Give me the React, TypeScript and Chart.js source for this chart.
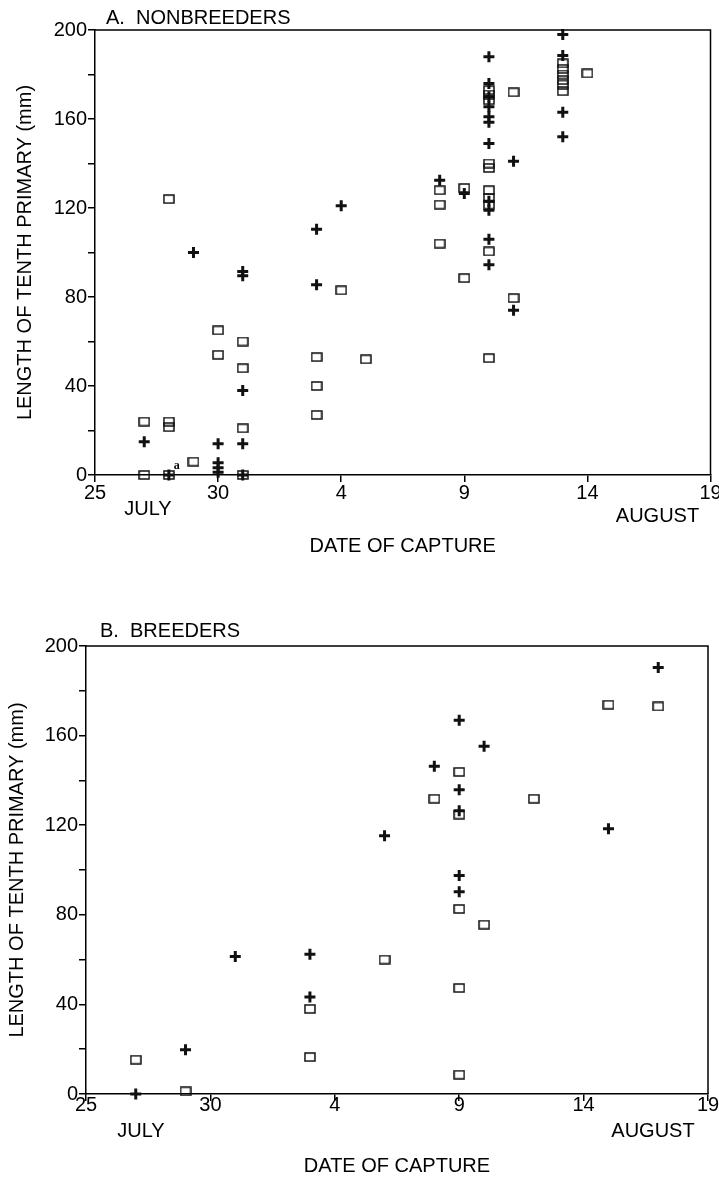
import React, { useEffect, useRef } from 'react';
import { Chart, registerables } from 'chart.js';

Chart.register(...registerables);

// ---- Axis tick labels (x value = days after 25 July) ----
const xTickValues = [0, 5, 10, 15, 20, 25];
const xTickLabels = ['25', '30', '4', '9', '14', '19'];

// ---- A. NONBREEDERS ----
const nbSquareDays = [2, 2, 3, 3, 3, 3, 4, 5, 5, 6, 6, 6, 6, 9, 9, 9, 10, 11, 14, 14, 14, 15, 15, 16, 16, 16, 16, 16, 16, 16, 16, 16, 16, 17, 17, 19, 19, 19, 19, 19, 19, 20];
const nbSquareLengths = [24, 0, 124, 24, 21.5, 0, 6, 65, 54, 60, 48, 21, 0, 53, 40, 27, 83, 52, 128, 121.5, 104, 129, 88.5, 173, 171, 168.5, 140, 138, 128, 124.5, 121.5, 100.5, 52.5, 172, 79.5, 185, 182.5, 180, 177.5, 175.5, 172.5, 180.5];
const nbPlusDays = [2, 3, 4, 5, 5, 5, 5, 6, 6, 6, 6, 6, 9, 9, 10, 14, 15, 16, 16, 16, 16, 16, 16, 16, 16, 16, 16, 16, 17, 17, 19, 19, 19, 19];
const nbPlusLengths = [15, 0, 100, 14, 5.5, 3.3, 1.2, 91.5, 89.5, 38, 14, 0, 110.5, 85.5, 121, 132.5, 126.5, 188, 176, 170, 165.5, 161, 158.5, 149, 123, 119, 106, 94.5, 141, 74, 198, 188.5, 163, 152];

// ---- B. BREEDERS ----
const bSquareDays = [2, 4, 9, 9, 12, 14, 15, 15, 15, 15, 15, 16, 18, 21, 23];
const bSquareLengths = [15.3, 1.2, 38, 16.5, 60, 131.8, 143.8, 124.7, 82.6, 47.3, 8.6, 75.6, 131.8, 173.8, 173];
const bPlusDays = [2, 4, 6, 9, 9, 12, 14, 15, 15, 15, 15, 15, 16, 21, 23];
const bPlusLengths = [0, 19.8, 61.4, 62.4, 43.3, 115.3, 146.3, 166.8, 135.8, 126.5, 97.5, 90.3, 155.2, 118.4, 190.4];

const FONT = "'Liberation Sans', Arial, Helvetica, sans-serif";
const INK = '#000';

function toPoints(xs: number[], ys: number[]) {
  return xs.map((x, i) => ({ x, y: ys[i] }));
}

function makeSquare(): HTMLCanvasElement {
  const c = document.createElement('canvas');
  c.width = 12;
  c.height = 10;
  const g = c.getContext('2d')!;
  g.strokeStyle = '#111';
  g.lineWidth = 1.5;
  g.strokeRect(1, 1, 10, 8);
  return c;
}

interface PanelSpec {
  title: string;
  titleDx: number;
  titleDy: number;
  squares: { x: number; y: number }[];
  pluses: { x: number; y: number }[];
  padding: { left: number; top: number; right: number; bottom: number };
  yWidth: number;
  xHeight: number;
  xTickPad: number;
  yTitlePad: number;
  julyDx: number;
  julyDy: number;
  augDx: number;
  augDy: number;
  noteA: boolean;
}

function buildConfig(spec: PanelSpec, squareImg: HTMLCanvasElement): any {
  const decor = {
    id: 'decor',
    afterDraw(chart: any) {
      const { ctx, chartArea: a, scales } = chart;
      ctx.save();
      ctx.strokeStyle = INK;
      ctx.lineWidth = 1.5;
      ctx.beginPath();
      ctx.moveTo(a.left, a.top);
      ctx.lineTo(a.right, a.top);
      ctx.lineTo(a.right, a.bottom);
      ctx.stroke();

      ctx.fillStyle = INK;
      ctx.font = `20px ${FONT}`;
      ctx.textAlign = 'left';
      ctx.textBaseline = 'alphabetic';
      ctx.fillText(spec.title, a.left + spec.titleDx, a.top + spec.titleDy);

      ctx.textAlign = 'center';
      ctx.fillText('JULY', a.left + spec.julyDx, a.bottom + spec.julyDy);
      ctx.fillText('AUGUST', a.right - spec.augDx, a.bottom + spec.augDy);

      if (spec.noteA) {
        ctx.font = `bold 12px 'Liberation Serif', serif`;
        ctx.textAlign = 'center';
        ctx.textBaseline = 'middle';
        ctx.fillText('a', scales.x.getPixelForValue(3) + 8, scales.y.getPixelForValue(0) - 9);
      }
      ctx.restore();
    },
  };

  return {
    type: 'scatter',
    data: {
      datasets: [
        {
          label: 'squares',
          data: spec.squares,
          pointStyle: squareImg,
          pointRadius: 6,
          clip: false,
        },
        {
          label: 'pluses',
          data: spec.pluses,
          pointStyle: 'cross',
          pointRadius: 5.5,
          pointBorderWidth: 3,
          borderColor: '#111',
          backgroundColor: '#111',
          clip: false,
        },
      ],
    },
    options: {
      animation: false,
      responsive: false,
      devicePixelRatio: 1,
      events: [],
      layout: { padding: spec.padding },
      plugins: {
        legend: { display: false },
        tooltip: { enabled: false },
        title: { display: false },
      },
      scales: {
        x: {
          type: 'linear',
          min: 0,
          max: 25,
          afterBuildTicks: (scale: any) => {
            scale.ticks = xTickValues.map((v) => ({ value: v }));
          },
          afterFit: (scale: any) => {
            scale.height = spec.xHeight;
            scale.paddingLeft = 0;
            scale.paddingRight = 0;
          },
          ticks: {
            autoSkip: false,
            maxRotation: 0,
            padding: spec.xTickPad,
            color: INK,
            font: { family: FONT, size: 20 },
            callback: (_v: any, i: number) => xTickLabels[i],
          },
          grid: {
            display: true,
            drawOnChartArea: false,
            drawTicks: true,
            tickLength: 7,
            color: INK,
            lineWidth: 1.5,
          },
          border: { display: true, color: INK, width: 1.5 },
          title: {
            display: true,
            text: 'DATE OF CAPTURE',
            color: INK,
            font: { family: FONT, size: 20 },
            padding: { top: 0, bottom: 0 },
          },
        },
        y: {
          type: 'linear',
          min: 0,
          max: 200,
          afterFit: (scale: any) => {
            scale.width = spec.yWidth;
            scale.paddingTop = 0;
            scale.paddingBottom = 0;
          },
          ticks: {
            stepSize: 20,
            autoSkip: false,
            padding: 1,
            color: INK,
            font: { family: FONT, size: 20 },
            callback: (v: any) => (Number(v) % 40 === 0 ? String(v) : ''),
          },
          grid: {
            display: true,
            drawOnChartArea: false,
            drawTicks: true,
            tickLength: 7,
            color: INK,
            lineWidth: 1.5,
          },
          border: { display: true, color: INK, width: 1.5 },
          title: {
            display: true,
            text: 'LENGTH OF TENTH PRIMARY (mm)',
            color: INK,
            font: { family: FONT, size: 20 },
            padding: { top: spec.yTitlePad, bottom: 0 },
          },
        },
      },
    },
    plugins: [decor],
  };
}

export default function App() {
  const topRef = useRef<HTMLCanvasElement>(null);
  const botRef = useRef<HTMLCanvasElement>(null);

  useEffect(() => {
    const sq = makeSquare();
    const top = new Chart(
      topRef.current!,
      buildConfig(
        {
          title: 'A.  NONBREEDERS',
          titleDx: 11,
          titleDy: -6,
          squares: toPoints(nbSquareDays, nbSquareLengths),
          pluses: toPoints(nbPlusDays, nbPlusLengths),
          padding: { left: 0, top: 30, right: 7, bottom: 32 },
          yWidth: 95,
          xHeight: 83,
          xTickPad: -1,
          yTitlePad: 13,
          julyDx: 53,
          julyDy: 40,
          augDx: 53,
          augDy: 47,
          noteA: true,
        },
        sq
      )
    );
    const bot = new Chart(
      botRef.current!,
      buildConfig(
        {
          title: 'B.  BREEDERS',
          titleDx: 14,
          titleDy: -9,
          squares: toPoints(bSquareDays, bSquareLengths),
          pluses: toPoints(bPlusDays, bPlusLengths),
          padding: { left: 0, top: 56, right: 11, bottom: 2.5 },
          yWidth: 86,
          xHeight: 84.5,
          xTickPad: -8,
          yTitlePad: 5,
          julyDx: 55,
          julyDy: 43,
          augDx: 55,
          augDy: 43,
          noteA: false,
        },
        sq
      )
    );
    return () => {
      top.destroy();
      bot.destroy();
    };
  }, []);

  return (
    <div style={{ position: 'absolute', left: 0, top: 0, width: 719, height: 1181, background: '#fff' }}>
      <canvas ref={topRef} width={719} height={590} style={{ position: 'absolute', left: 0, top: 0 }} />
      <canvas ref={botRef} width={719} height={591} style={{ position: 'absolute', left: 0, top: 590 }} />
    </div>
  );
}
